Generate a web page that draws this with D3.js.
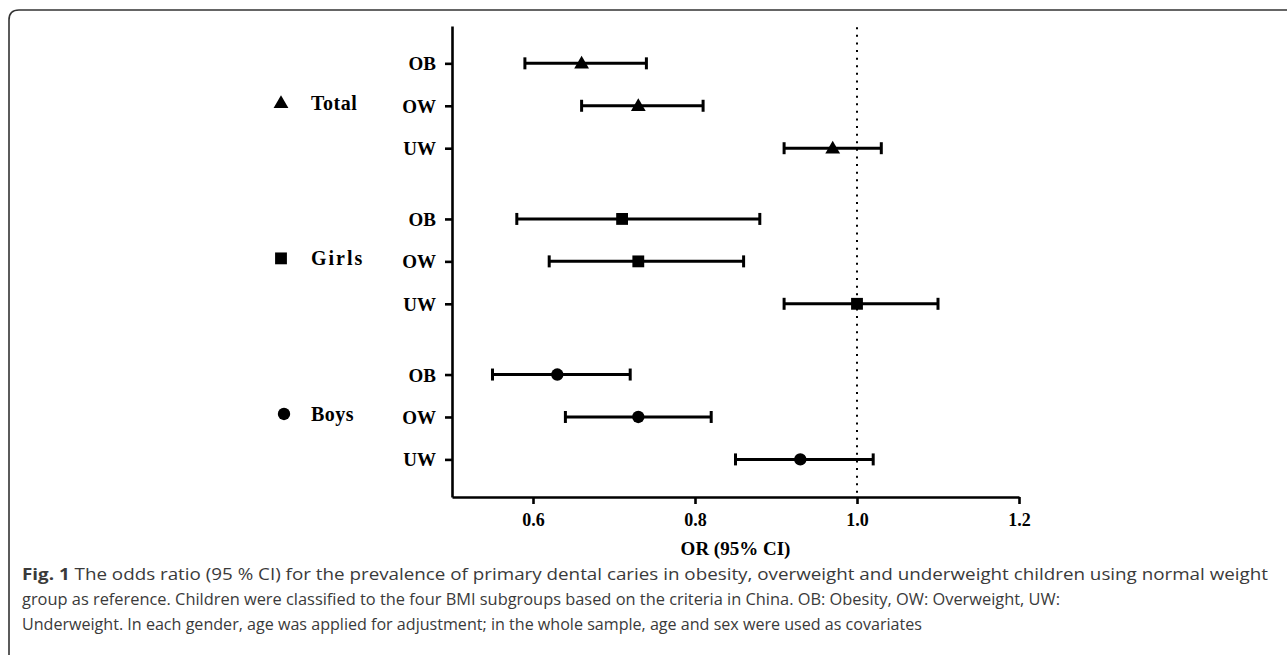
<!DOCTYPE html>
<html><head><meta charset="utf-8">
<script src="https://cdn.jsdelivr.net/npm/d3@7"></script>
<style>body{margin:0;background:#fff}</style>
</head><body>
<svg id="c" width="1287" height="655"></svg>
<script>
const groups = ["Total", "Girls", "Boys"];
const symbols = ["triangle", "square", "circle"];
const rowLabels = ["OB", "OW", "UW"];
// OR estimates and 95% CI per group, rows OB, OW, UW
const orTotal = [0.66, 0.73, 0.97], loTotal = [0.59, 0.66, 0.91], hiTotal = [0.74, 0.81, 1.03];
const orGirls = [0.71, 0.73, 1.00], loGirls = [0.58, 0.62, 0.91], hiGirls = [0.88, 0.86, 1.10];
const orBoys  = [0.63, 0.73, 0.93], loBoys  = [0.55, 0.64, 0.85], hiBoys  = [0.72, 0.82, 1.02];
const xTicks = [0.6, 0.8, 1.0, 1.2];
const refValue = 1.0;
const captionLines = [
  "The odds ratio (95 % CI) for the prevalence of primary dental caries in obesity, overweight and underweight children using normal weight",
  "group as reference. Children were classified to the four BMI subgroups based on the criteria in China. OB: Obesity, OW: Overweight, UW:",
  "Underweight. In each gender, age was applied for adjustment; in the whole sample, age and sex were used as covariates"
];

const estimates = [orTotal, orGirls, orBoys], lows = [loTotal, loGirls, loBoys], highs = [hiTotal, hiGirls, hiBoys];
const GAP = 0.667;
const rows = [];
groups.forEach((g, gi) => rowLabels.forEach((r, ri) => rows.push({
  group: g, gi, label: r, pos: gi * (3 + GAP) + ri,
  or: estimates[gi][ri], lo: lows[gi][ri], hi: highs[gi][ri]
})));

const svg = d3.select("#c");
const serif = "'Liberation Serif','Times New Roman',serif";

// frame
svg.append("path")
  .attr("d", "M9,660 L9,20 Q9,10 19,10 L1295,10")
  .attr("fill", "none").attr("stroke", "#333").attr("stroke-width", 1.6);

const x = d3.scaleLinear().domain([0.5, 1.2]).range([452, 1019]);
const y = d3.scaleLinear().domain([-0.88, 10.22]).range([26, 497]);

// reference dotted line
svg.append("line")
  .attr("x1", x(refValue)).attr("x2", x(refValue))
  .attr("y1", y(-0.85)).attr("y2", y(10.22))
  .attr("stroke", "#000").attr("stroke-width", 2)
  .attr("stroke-dasharray", "2,5.6");

// x axis
const xa = svg.append("g").attr("transform", `translate(0,${y(10.22)})`)
  .call(d3.axisBottom(x).tickValues(xTicks).tickFormat(d3.format(".1f")).tickSize(7).tickSizeOuter(0).tickPadding(9));
// y axis
const ya = svg.append("g").attr("transform", `translate(${x(0.5)},0)`)
  .call(d3.axisLeft(y).tickValues(rows.map(d => d.pos)).tickFormat((d, i) => rows[i].label).tickSize(7).tickSizeOuter(0).tickPadding(9));
[xa, ya].forEach(a => {
  a.select(".domain").attr("stroke", "#000").attr("stroke-width", 2.6);
  a.selectAll(".tick line").attr("stroke", "#000").attr("stroke-width", 2.6);
  a.selectAll(".tick text").attr("fill", "#000").style("font-family", serif).style("font-weight", "bold");
});
xa.selectAll(".tick text").style("font-size", "18px");
ya.selectAll(".tick text").style("font-size", "19px").attr("dy", "0.34em");

// axis title
svg.append("text").attr("x", (x(0.5) + x(1.2)) / 2).attr("y", 555)
  .attr("text-anchor", "middle").style("font-family", serif).style("font-weight", "bold")
  .style("font-size", "19px").text("OR (95% CI)");

// error bars
const capH = 6;
const bars = svg.append("g").attr("stroke", "#000").attr("stroke-width", 3);
rows.forEach(d => {
  const yy = y(d.pos);
  bars.append("line").attr("x1", x(d.lo)).attr("x2", x(d.hi)).attr("y1", yy).attr("y2", yy);
  bars.append("line").attr("x1", x(d.lo)).attr("x2", x(d.lo)).attr("y1", yy - capH).attr("y2", yy + capH);
  bars.append("line").attr("x1", x(d.hi)).attr("x2", x(d.hi)).attr("y1", yy - capH).attr("y2", yy + capH);
});

const symType = { triangle: d3.symbolTriangle, square: d3.symbolSquare, circle: d3.symbolCircle };
const symSize = { triangle: 95, square: 140, circle: 120 };
function sym(name) { return d3.symbol().type(symType[name]).size(symSize[name])(); }

svg.append("g").selectAll("path").data(rows).join("path")
  .attr("d", d => sym(symbols[d.gi]))
  .attr("transform", d => `translate(${x(d.or)},${y(d.pos) + (symbols[d.gi] === "triangle" ? 1 : 0)})`)
  .attr("fill", "#000");

// legend
groups.forEach((g, gi) => {
  const yy = y(gi * (3 + GAP) + 1) - 3;
  svg.append("path").attr("d", sym(symbols[gi]))
    .attr("transform", `translate(${gi === 2 ? 284 : 281},${yy + (gi === 0 ? 1 : 0)})`).attr("fill", "#000");
  svg.append("text").attr("x", 311).attr("y", yy).attr("dy", "0.34em")
    .style("font-family", serif).style("font-weight", "bold").style("font-size", "20px")
    .style("letter-spacing", gi === 1 ? "2px" : "0.5px")
    .text(g);
});

// caption
const cap = svg.append("g").style("font-family", "'Open Sans','Noto Sans',sans-serif").style("font-size", "16px").attr("fill", "#3a3a3a");
const capW = [1246, 1038, 900];
captionLines.forEach((t, i) => {
  const yy = 580 + i * 25;
  const tx = cap.append("text").attr("x", 22).attr("y", yy);
  if (i === 0) {
    tx.append("tspan").style("font-weight", "bold").text("Fig. 1");
    tx.append("tspan").text(" " + t);
  } else {
    tx.text(t);
  }
  tx.attr("textLength", capW[i]).attr("lengthAdjust", "spacingAndGlyphs");
});
</script>
</body></html>
